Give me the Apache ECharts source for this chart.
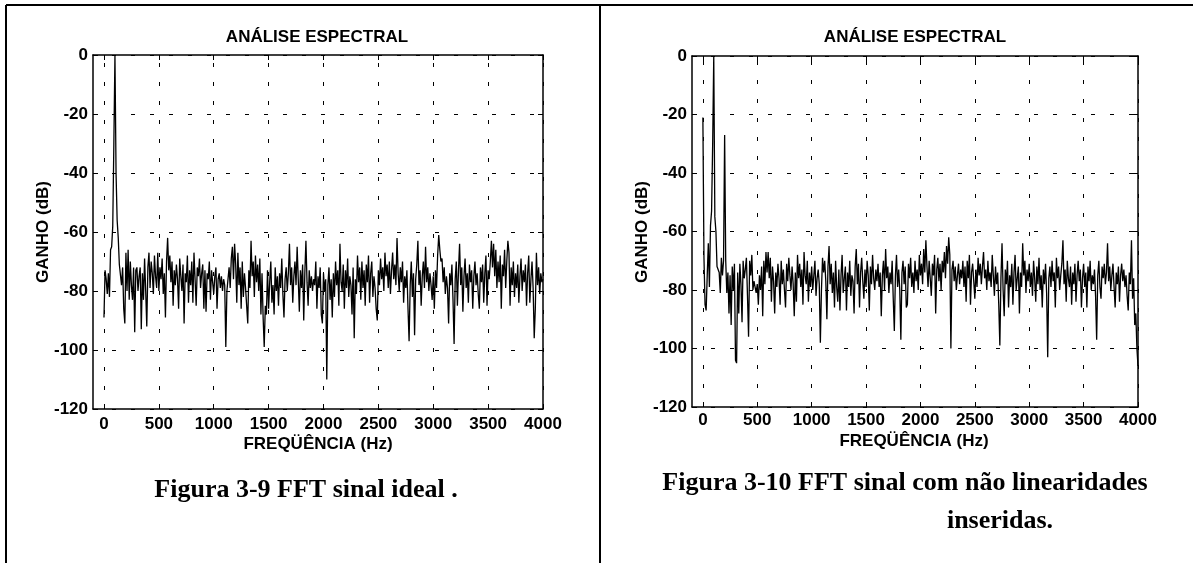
<!DOCTYPE html>
<html>
<head>
<meta charset="utf-8">
<script src="https://cdn.jsdelivr.net/npm/echarts@6/dist/echarts.min.js"></script>
<style>
html,body{margin:0;padding:0;background:#fff;}
#chart{width:1193px;height:563px;}
</style>
</head>
<body>
<div id="chart"></div>
<script>
// ---- data ----
const freqStep = 10; // Hz between FFT bins
const xTicks = [0, 500, 1000, 1500, 2000, 2500, 3000, 3500, 4000];
const yTicks = [0, -20, -40, -60, -80, -100, -120];
const chartTitle = 'ANÁLISE ESPECTRAL';
const xName = 'FREQÜÊNCIA (Hz)';
const yName = 'GANHO (dB)';
const captionLeft = 'Figura 3-9 FFT sinal ideal .';
const captionRight1 = 'Figura 3-10 FFT sinal com não linearidades';
const captionRight2 = 'inseridas.';

const gainIdeal = [
-89,-73,-76,-81,-74,-82,-66,-65,-58,-30,0,-40,-56,-62,-71,-71,-78,-72,-86,-91,
-67,-80,-66,-83,-70,-78,-83,-72,-94,-73,-72,-80,-75,-72,-93,-74,-83,-69,-80,-92,
-72,-67,-79,-70,-74,-81,-68,-75,-79,-67,-80,-72,-76,-69,-81,-74,-89,-70,-62,-73,
-68,-77,-70,-85,-73,-78,-71,-76,-86,-69,-75,-80,-71,-91,-74,-77,-68,-84,-73,-78,
-70,-84,-67,-76,-85,-72,-75,-69,-79,-74,-71,-86,-73,-87,-74,-76,-70,-83,-73,-77,
-81,-75,-72,-86,-76,-74,-79,-75,-80,-76,-78,-99,-80,-80,-72,-79,-69,-65,-76,-64,
-71,-84,-67,-78,-72,-86,-70,-82,-74,-79,-85,-91,-73,-79,-63,-75,-70,-82,-68,-77,
-71,-80,-69,-88,-74,-89,-99,-85,-88,-73,-86,-77,-70,-84,-78,-88,-72,-80,-75,-85,
-74,-79,-69,-81,-89,-76,-72,-80,-74,-64,-78,-72,-84,-75,-70,-78,-65,-76,-87,-73,
-79,-71,-90,-74,-63,-77,-85,-73,-79,-75,-80,-76,-78,-70,-86,-75,-79,-72,-88,-91,
-74,-80,-76,-110,-78,-72,-83,-76,-89,-74,-82,-70,-78,-73,-85,-64,-77,-80,-71,-86,
-73,-79,-69,-82,-75,-78,-88,-72,-96,-76,-81,-68,-77,-72,-83,-70,-79,-73,-85,-71,
-77,-68,-84,-74,-70,-82,-75,-79,-86,-90,-73,-78,-69,-76,-72,-80,-67,-75,-71,-79,
-70,-81,-73,-67,-76,-71,-78,-62,-74,-80,-72,-77,-70,-84,-75,-79,-73,-86,-97,-78,
-70,-82,-74,-95,-76,-71,-63,-78,-73,-85,-75,-70,-79,-65,-77,-72,-80,-74,-78,-83,
-75,-86,-73,-79,-68,-61,-66,-70,-69,-77,-72,-81,-75,-79,-91,-74,-78,-71,-83,-98,
-76,-70,-85,-73,-64,-78,-72,-87,-75,-69,-79,-74,-84,-71,-77,-73,-86,-75,-70,-78,
-74,-81,-86,-72,-77,-71,-84,-74,-68,-85,-73,-76,-70,-63,-72,-64,-75,-66,-79,-70,
-77,-68,-86,-71,-75,-66,-79,-70,-63,-67,-85,-72,-78,-70,-82,-74,-79,-71,-84,-75,
-69,-80,-73,-77,-71,-85,-74,-68,-84,-76,-70,-79,-96,-86,-67,-78,-72,-81,-74,-77,
-76
];

const gainNonlinear = [
-21,-69,-85,-87,-75,-64,-79,-58,-53,-30,0,-55,-60,-72,-72,-74,-81,-69,-75,-70,
-27,-70,-81,-74,-88,-75,-92,-72,-80,-71,-104,-105,-74,-88,-71,-78,-91,-70,-76,-73,
-69,-82,-96,-70,-75,-68,-80,-77,-79,-81,-78,-85,-75,-80,-72,-89,-70,-78,-67,-74,
-67,-76,-69,-84,-72,-77,-88,-74,-79,-71,-76,-85,-70,-78,-73,-80,-86,-71,-77,-69,
-75,-80,-72,-78,-89,-74,-84,-68,-76,-71,-79,-73,-85,-67,-75,-78,-70,-84,-74,-79,
-72,-80,-75,-70,-82,-76,-73,-78,-98,-80,-69,-74,-70,-77,-90,-72,-65,-78,-71,-81,
-74,-86,-70,-79,-84,-73,-87,-75,-68,-81,-76,-72,-87,-74,-79,-70,-82,-75,-77,-88,
-72,-66,-78,-71,-86,-74,-69,-77,-83,-73,-79,-70,-75,-87,-72,-78,-68,-76,-80,-73,
-77,-71,-79,-74,-89,-75,-70,-80,-66,-76,-72,-81,-74,-78,-70,-83,-94,-75,-68,-79,
-73,-80,-97,-74,-70,-78,-72,-86,-85,-71,-76,-69,-79,-74,-81,-70,-77,-73,-80,-68,
-75,-71,-78,-66,-74,-63,-72,-79,-70,-76,-82,-71,-75,-68,-88,-73,-69,-77,-71,-80,
-70,-74,-67,-76,-65,-71,-62,-68,-100,-73,-70,-77,-72,-80,-75,-71,-78,-73,-76,-70,
-79,-72,-84,-70,-76,-68,-85,-74,-71,-77,-83,-73,-79,-69,-75,-71,-78,-72,-67,-76,
-73,-80,-70,-77,-74,-79,-68,-75,-82,-72,-78,-74,-85,-99,-76,-64,-80,-89,-73,-78,
-70,-86,-75,-79,-71,-85,-74,-68,-80,-76,-72,-88,-74,-79,-64,-75,-70,-81,-73,-77,
-71,-79,-74,-82,-70,-76,-84,-72,-78,-69,-80,-75,-86,-73,-78,-71,-81,-103,-76,-72,
-79,-70,-77,-74,-86,-69,-76,-72,-80,-75,-71,-63,-78,-73,-84,-70,-76,-79,-72,-85,
-74,-78,-71,-84,-75,-70,-77,-73,-86,-76,-71,-79,-74,-86,-72,-77,-70,-80,-75,-78,
-73,-82,-97,-75,-70,-79,-83,-72,-76,-71,-78,-74,-64,-77,-72,-80,-75,-71,-79,-86,
-74,-78,-72,-84,-75,-71,-77,-73,-79,-75,-82,-87,-74,-78,-63,-83,-76,-92,-88,-100,
-106
];

// ---- chart ----
const FONT = '"Liberation Sans", Arial, sans-serif';
const SERIF = '"Liberation Serif", "Times New Roman", serif';
const gridDash = [4, 15];

function toPairs(arr) { return arr.map((v, i) => [i * freqStep, v]); }
const plainNum = v => String(v);

function xAxes(gi, labelMargin) {
  return [
    { gridIndex: gi, type: 'value', position: 'bottom', min: -100, max: 4000,
      axisLine: { show: true, onZero: false, lineStyle: { color: '#000', width: 1.5 } },
      axisTick: { show: true, inside: true, length: 5, customValues: xTicks, lineStyle: { color: '#000' } },
      axisLabel: { show: true, customValues: xTicks, formatter: plainNum, margin: labelMargin, color: '#000',
                   fontFamily: FONT, fontWeight: 'bold', fontSize: 17 },
      splitLine: { show: false } },
    { gridIndex: gi, type: 'value', position: 'top', min: -100, max: 4000,
      axisLine: { show: true, onZero: false, lineStyle: { color: '#000', width: 1.5 } },
      axisTick: { show: true, inside: true, length: 5, customValues: xTicks, lineStyle: { color: '#000' } },
      axisLabel: { show: false },
      splitLine: { show: false } }
  ];
}
function yAxes(gi) {
  return [
    { gridIndex: gi, type: 'value', position: 'left', min: -120, max: 0, interval: 20,
      axisLine: { show: true, onZero: false, lineStyle: { color: '#000', width: 1.5 } },
      axisTick: { show: true, inside: true, length: 5, lineStyle: { color: '#000' } },
      axisLabel: { show: true, formatter: plainNum, margin: 5, color: '#000', fontFamily: FONT, fontWeight: 'bold', fontSize: 17 },
      splitLine: { show: true, lineStyle: { color: '#000', width: 1, type: gridDash } } },
    { gridIndex: gi, type: 'value', position: 'right', min: -120, max: 0, interval: 20,
      axisLine: { show: true, onZero: false, lineStyle: { color: '#000', width: 1.5 } },
      axisTick: { show: true, inside: true, length: 5, lineStyle: { color: '#000' } },
      axisLabel: { show: false },
      splitLine: { show: false } }
  ];
}
function series(data, xi, yi) {
  return {
    type: 'line', xAxisIndex: xi, yAxisIndex: yi, data: toPairs(data),
    showSymbol: false, symbol: 'none', silent: true,
    lineStyle: { color: '#000', width: 1.3 },
    markLine: {
      silent: true, symbol: ['none', 'none'], label: { show: false },
      lineStyle: { color: '#000', width: 1, type: gridDash },
      data: xTicks.map(v => ({ xAxis: v }))
    }
  };
}
function txt(x, y, text, font, opts) {
  return Object.assign({ type: 'text', x: x, y: y, silent: true,
    style: { text: text, font: font, fill: '#000', align: 'center', verticalAlign: 'middle' } }, opts || {});
}

const chart = echarts.init(document.getElementById('chart'), null, { renderer: 'canvas' });
chart.setOption({
  animation: false,
  backgroundColor: '#fff',
  grid: [
    { left: 93, top: 55, width: 450, height: 354 },
    { left: 692, top: 56, width: 446, height: 351 }
  ],
  xAxis: xAxes(0, 7).concat(xAxes(1, 5)),
  yAxis: yAxes(0).concat(yAxes(1)),
  series: [
    series(gainIdeal, 0, 0),
    series(gainNonlinear, 2, 2)
  ],
  graphic: [
    { type: 'line', silent: true, shape: { x1: 6, y1: 5, x2: 1193, y2: 5 }, style: { stroke: '#000', lineWidth: 2 } },
    { type: 'line', silent: true, shape: { x1: 6, y1: 5, x2: 6, y2: 563 }, style: { stroke: '#000', lineWidth: 2 } },
    { type: 'line', silent: true, shape: { x1: 600, y1: 5, x2: 600, y2: 563 }, style: { stroke: '#000', lineWidth: 2 } },
    txt(317, 37, chartTitle, 'bold 17px ' + FONT),
    txt(915, 37, chartTitle, 'bold 17px ' + FONT),
    txt(318, 444, xName, 'bold 17px ' + FONT),
    txt(914, 441, xName, 'bold 17px ' + FONT),
    txt(43, 232, yName, 'bold 17px ' + FONT, { rotation: Math.PI / 2 }),
    txt(642, 232, yName, 'bold 17px ' + FONT, { rotation: Math.PI / 2 }),
    txt(306, 490, captionLeft, 'bold 26px ' + SERIF),
    txt(905, 483, captionRight1, 'bold 26px ' + SERIF),
    txt(1000, 521, captionRight2, 'bold 26px ' + SERIF)
  ]
});
</script>
</body>
</html>
